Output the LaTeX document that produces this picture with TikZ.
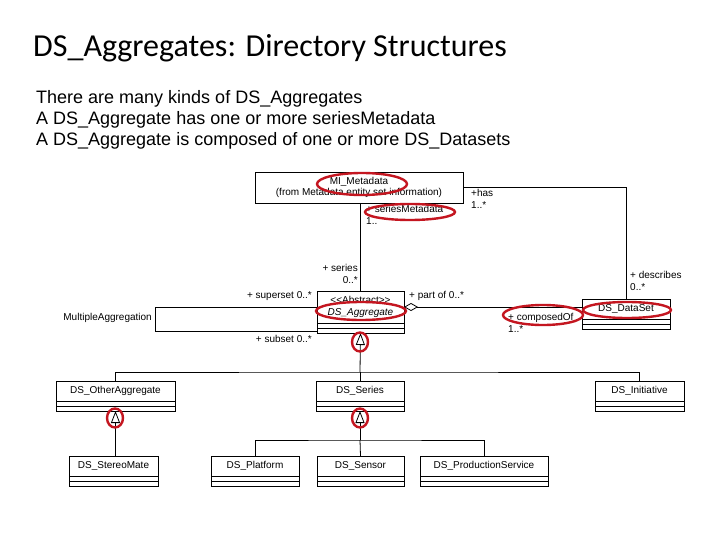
\documentclass[tikz,border=0pt]{standalone}
\usepackage{fontspec}
\setmainfont{Liberation Sans}
\newfontfamily\titlefont{Carlito}
\usetikzlibrary{arrows.meta}
\definecolor{markred}{RGB}{196,22,32}
\newcommand{\umlcls}[6]{%
  \node[cls, anchor=north west, minimum width=#4pt, minimum height=#5pt] (#1) at (#2,#3) {#6};
  \draw[conn] (#1.south west) rectangle ([yshift=-10pt]#1.south east);
  \draw[conn] ([yshift=-5pt]#1.south west) -- ([yshift=-5pt]#1.south east);
  \coordinate (#1-b) at ([yshift=-10pt]#1.south);
}
\begin{document}
\begin{tikzpicture}[x=1pt,y=-1pt,
  cls/.style={draw, line width=0.8pt, inner sep=0pt, outer sep=0pt, font=\fontsize{10}{11.5}\selectfont, align=center},
  lbl/.style={inner sep=0pt, font=\fontsize{10}{12.5}\selectfont, align=left},
  conn/.style={line width=0.8pt},
  gen/.style={conn, -{Triangle[open, length=12pt, width=9pt]}},
  aggr/.style={conn, {Diamond[open, length=14pt, width=8pt]}-},
  redmark/.style={draw=markred, line width=2.4pt}]
\useasboundingbox[fill=white] (0,0) rectangle (720,540);

% title and text
\node[anchor=base west, font=\titlefont\fontsize{32}{38}\selectfont, inner sep=0pt] (title) at (33,57) {DS\_Aggregates: Directory Structures};
\node[anchor=north west, font=\fontsize{18}{21}\selectfont, align=left, inner sep=0pt] (body) at (36,90)
  {There are many kinds of DS\_Aggregates\\A DS\_Aggregate has one or more seriesMetadata\\A DS\_Aggregate is composed of one or more DS\_Datasets};

% classes
\node[cls, anchor=north west, minimum width=208pt, minimum height=31pt] (meta) at (255,172)
  {MI\_Metadata\\(from Metadata entity set information)};
\umlcls{agg}{317}{291}{87}{32}{<{}<Abstract>{}>\\\textit{DS\_Aggregate}}
\umlcls{ds}{582}{299}{88}{20}{DS\_DataSet}
\umlcls{other}{56}{381}{119}{20}{DS\_OtherAggregate}
\umlcls{series}{316}{381}{88}{20}{DS\_Series}
\umlcls{init}{595}{381}{89}{20}{DS\_Initiative}
\umlcls{stereo}{69}{456}{89}{20}{DS\_StereoMate}
\umlcls{plat}{211}{456}{88}{20}{DS\_Platform}
\umlcls{sensor}{317}{456}{87}{20}{DS\_Sensor}
\umlcls{prod}{420}{456}{128}{20}{DS\_ProductionService}

% associations
\draw[conn] (meta.south -| agg.north) -- (agg.north);
\draw[conn] (meta.east) -| (ds.north);
\coordinate (agglow) at ([yshift=-8pt]agg.south west);
\draw[conn] (agg.west) -- ++(-162,0) coordinate (maL) |- (agglow);
\draw[aggr] (agg.east) -- (agg.east -| ds.west);

% generalizations
\coordinate (j1) at (360,372);
\draw[gen] (j1) -- (agg-b);
\draw[conn] (other.north) |- (j1) -| (init.north);
\draw[conn] (series.north) -- (j1);
\coordinate (j2) at (360,440);
\draw[gen] (j2) -- (series-b);
\draw[conn] (plat.north) |- (j2) -| (prod.north);
\draw[conn] (sensor.north) -- (j2);
\draw[gen] (other-b |- stereo.north) -- (other-b);

% role labels
\node[lbl, anchor=north west] (lsm) at (366,205) {+ seriesMetadata\\1..};
\node[lbl, anchor=north west] (lhas) at (471,189) {+has\\1..*};
\node[lbl, anchor=north east, align=right] (lser) at (358,264) {+ series\\0..*};
\node[lbl, anchor=south east] (lsup) at (312,301) {+ superset 0..*};
\node[lbl, anchor=south west] (lpart) at (409,301) {+ part of 0..*};
\node[lbl, anchor=north west] (lcomp) at (508,313) {+ composedOf\\1..*};
\node[lbl, anchor=north west] (ldesc) at (630,271) {+ describes\\0..*};
\node[lbl, anchor=north east] (lsub) at (312,335) {+ subset 0..*};
\node[lbl, anchor=east] (lma) at (152,318) {MultipleAggregation};

% red annotation marks
\draw[redmark] (362,184) ellipse [x radius=45pt, y radius=11pt];
\draw[redmark] (410,212) ellipse [x radius=45pt, y radius=8pt];
\draw[redmark] (361,311) ellipse [x radius=45pt, y radius=9pt];
\draw[redmark] (360,342) ellipse [x radius=8pt, y radius=9.5pt];
\draw[redmark] (543,315) ellipse [x radius=40pt, y radius=10pt];
\draw[redmark] (627,310) ellipse [x radius=44pt, y radius=8pt];
\draw[redmark] (115,418) ellipse [x radius=8pt, y radius=9.5pt];
\draw[redmark] (360,418) ellipse [x radius=8pt, y radius=9.5pt];
\end{tikzpicture}
\end{document}
